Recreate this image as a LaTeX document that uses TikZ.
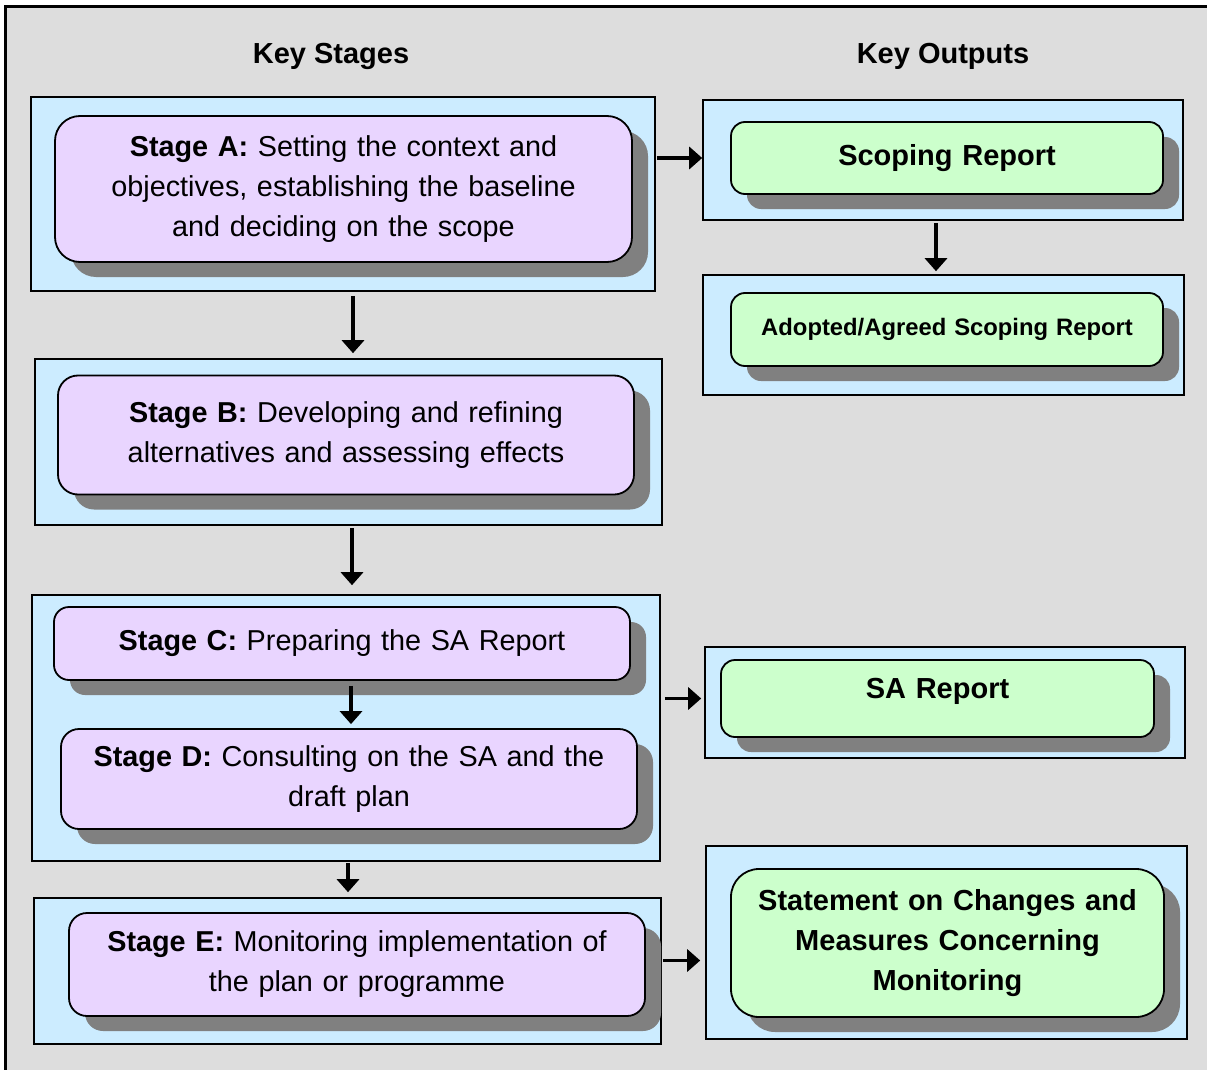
\documentclass[tikz,border=0pt]{standalone}
\usepackage{fontspec}
\setmainfont{Liberation Sans}
\usetikzlibrary{arrows.meta,shadows,calc}

\definecolor{framebg}{HTML}{DDDDDD}
\definecolor{panelblue}{HTML}{CCECFF}
\definecolor{stagepurple}{HTML}{E9D5FF}
\definecolor{outgreen}{HTML}{CCFFCC}
\definecolor{shadowgray}{HTML}{808080}

\tikzset{
  panel/.style={draw=black, line width=1.6pt, fill=panelblue, inner sep=0pt},
  roundbox/.style={draw=black, line width=1.8pt, inner sep=0pt, align=center,
    drop shadow={shadow xshift=16pt, shadow yshift=-15pt, opacity=1, fill=shadowgray}},
  stagebox/.style={roundbox, fill=stagepurple,
    font=\fontsize{28.8}{40}\selectfont},
  outbox/.style={roundbox, fill=outgreen,
    font=\fontsize{29}{40}\selectfont\bfseries},
  heading/.style={font=\fontsize{29}{34}\selectfont\bfseries, inner sep=0pt},
  flow/.style={line width=3.5pt, -{Triangle[width=22pt,length=13pt]}},
}

\begin{document}
\begin{tikzpicture}[x=1pt, y=-1pt]
  \useasboundingbox (0,0) rectangle (1207,1070);
  \clip (0,0) rectangle (1207,1070);
  % outer frame, running off the right and bottom edges
  \draw[line width=3pt, fill=framebg] (5,7) rectangle (1230,1090);

  % column headings
  \node[heading] (hstages) at (331,56) {Key Stages};
  \node[heading] (houtputs) at (943,56) {Key Outputs};

  % ---- key stages ----
  \node[panel, minimum width=624pt, minimum height=194pt] (pA) at (343,194) {};
  \node[stagebox, rounded corners=25pt, minimum width=577pt, minimum height=146pt, text width=570pt]
    (A) at (343.5,189) {\textbf{Stage A:} Setting the context and\\objectives, establishing the baseline\\and deciding on the scope};

  \node[panel, minimum width=627pt, minimum height=166pt] (pB) at (348.5,442) {};
  \node[stagebox, rounded corners=20pt, minimum width=576pt, minimum height=119pt, text width=570pt]
    (B) at (346,435) {\textbf{Stage B:} Developing and refining\\alternatives and assessing effects};

  \node[panel, minimum width=628pt, minimum height=266pt] (pCD) at (346,728) {};
  \node[stagebox, rounded corners=15pt, minimum width=576pt, minimum height=73pt, text width=570pt]
    (C) at (342,643.5) {\textbf{Stage C:} Preparing the SA Report};
  \node[stagebox, rounded corners=18pt, minimum width=576pt, minimum height=100pt, text width=570pt]
    (D) at (349,779) {\textbf{Stage D:} Consulting on the SA and the\\draft plan};

  \node[panel, minimum width=627pt, minimum height=146pt] (pE) at (347.5,971) {};
  \node[stagebox, rounded corners=18pt, minimum width=576pt, minimum height=103pt, text width=570pt]
    (E) at (357,964.5) {\textbf{Stage E:} Monitoring implementation of\\the plan or programme};

  % ---- key outputs ----
  \node[panel, minimum width=480pt, minimum height=120pt] (pS) at (943,160) {};
  \node[outbox, rounded corners=14pt, minimum width=432pt, minimum height=72pt, text width=425pt]
    (S) at (947,158) {Scoping Report};

  \node[panel, minimum width=481pt, minimum height=120pt] (pAd) at (943.5,335) {};
  \node[outbox, rounded corners=14pt, minimum width=432pt, minimum height=73pt, text width=425pt,
    font=\fontsize{23.8}{28}\selectfont\bfseries]
    (Ad) at (947,329.5) {Adopted/Agreed Scoping Report};

  \node[panel, minimum width=480pt, minimum height=111pt] (pSA) at (945,702.5) {};
  \node[outbox, rounded corners=14pt, minimum width=433pt, minimum height=77pt, text width=425pt,
    text depth=20pt]
    (SA) at (937.5,698.5) {SA Report};

  \node[panel, minimum width=481pt, minimum height=193pt] (pSt) at (946.5,942.5) {};
  \node[outbox, rounded corners=28pt, minimum width=433pt, minimum height=148pt, text width=425pt]
    (St) at (947.5,943) {Statement on Changes and\\Measures Concerning\\Monitoring};

  % ---- flow between stages ----
  \draw[flow] ($(pA.south)+(10,4)$) -- ($(pA.south |- pB.north)+(10,-5)$);
  \draw[flow] ($(pB.south)+(3.5,2)$) -- ($(pB.south |- pCD.north)+(3.5,-9)$);
  \draw[flow] ($(C.south)+(9,5)$) -- ($(C.south |- D.north)+(9,-4)$);
  \draw[flow] ($(pCD.south)+(2,1)$) -- ($(pCD.south |- pE.north)+(2,-5)$);

  % ---- stages to outputs ----
  \draw[flow] ($(pA.east |- S.center)+(1,0)$) -- (pS.west |- S.center);
  \draw[flow] ($(pS.south)+(-7,2)$) -- ($(pS.south |- pAd.north)+(-7,-3)$);
  \draw[flow] ($(pCD.east |- SA.center)+(4,0)$) -- ($(pSA.west |- SA.center)+(-3,0)$);
  \draw[flow] ($(pE.east |- pSt.center)+(1,18)$) -- ($(pSt.west |- pSt.center)+(-5,18)$);
\end{tikzpicture}
\end{document}
